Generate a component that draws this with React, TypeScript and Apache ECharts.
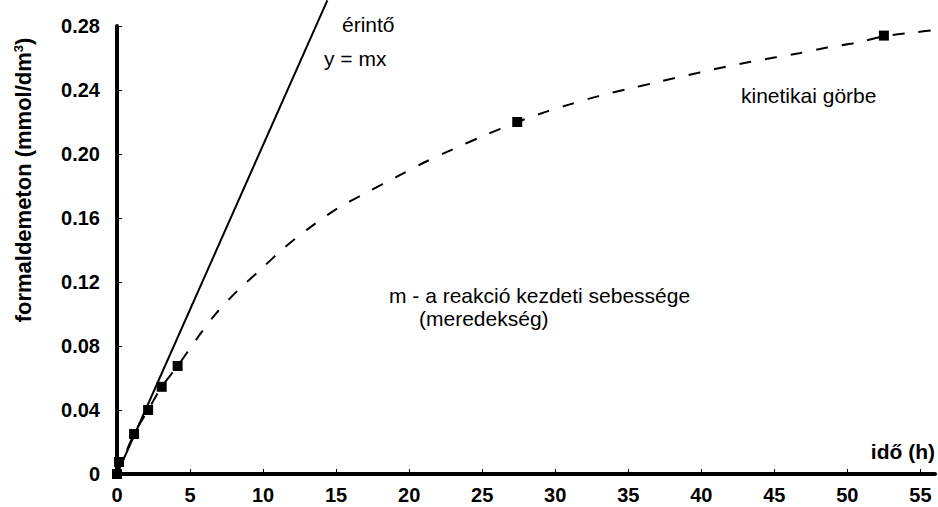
import React, { useEffect, useRef } from 'react';
import * as echarts from 'echarts';

// measured points (time in h, concentration in mmol/dm3)
const measuredTime = [0, 0.14, 1.17, 2.13, 3.06, 4.15, 27.4, 52.5];
const measuredConc = [0, 0.0075, 0.025, 0.04, 0.0545, 0.0675, 0.22, 0.274];

// kinetic curve (dashed)
const curveTime = [0, 1.17, 2.13, 3.06, 4.15, 5.5, 6.8, 8.3, 9.8, 11.4, 13.2, 15.1, 17.1, 19.2, 21.1, 23.0, 25.0, 27.4, 29.4, 31.0, 32.9, 34.9, 36.8, 39.9, 43.3, 46.7, 48.6, 50.6, 52.5, 54.6, 56];
const curveConc = [0, 0.025, 0.04, 0.0545, 0.0675, 0.085, 0.1006, 0.115, 0.1275, 0.141, 0.154, 0.166, 0.176, 0.186, 0.195, 0.203, 0.211, 0.22, 0.2265, 0.231, 0.236, 0.2405, 0.2445, 0.251, 0.2575, 0.263, 0.2665, 0.2695, 0.2735, 0.276, 0.2775];

// tangent line y = mx
const tangentTime = [0, 14.4];
const tangentConc = [0, 0.296];

const xTicks = [0, 5, 10, 15, 20, 25, 30, 35, 40, 45, 50, 55];
const yTicks = ['0', '0.04', '0.08', '0.12', '0.16', '0.20', '0.24', '0.28'];

const FONT = '"Liberation Sans", Arial, sans-serif';

export default function App() {
  const ref = useRef<HTMLDivElement>(null);
  useEffect(() => {
    document.body.style.margin = '0';
    if (!ref.current) return;
    const chart = echarts.init(ref.current, null, { renderer: 'svg' });
    const zip = (a: number[], b: number[]) => a.map((v, i) => [v, b[i]]);
    chart.setOption({
      animation: false,
      backgroundColor: '#fff',
      grid: { left: 117, right: 3, top: 26, bottom: 33, containLabel: false },
      xAxis: {
        type: 'value',
        min: 0,
        max: 56,
        interval: 5,
        axisLine: { show: true, lineStyle: { color: '#000', width: 4 } },
        axisTick: { show: true, inside: true, length: 5, lineStyle: { color: '#000', width: 1 } },
        axisLabel: {
          color: '#000',
          fontFamily: FONT,
          fontWeight: 'bold',
          fontSize: 20,
          margin: 11,
          showMaxLabel: false,
          formatter: (v: number) => (xTicks.includes(v) ? String(v) : ''),
        },
        splitLine: { show: false },
      },
      yAxis: {
        type: 'value',
        min: 0,
        max: 0.28,
        interval: 0.04,
        axisLine: { show: true, onZero: false, lineStyle: { color: '#000', width: 4 } },
        axisTick: { show: true, inside: true, length: 5, lineStyle: { color: '#000', width: 1 } },
        axisLabel: {
          color: '#000',
          fontFamily: FONT,
          fontWeight: 'bold',
          fontSize: 20,
          margin: 17,
          formatter: (v: number) => yTicks[Math.round(v / 0.04)] ?? '',
        },
        splitLine: { show: false },
      },
      series: [
        {
          name: 'kinetikai görbe',
          type: 'line',
          data: zip(curveTime, curveConc),
          showSymbol: false,
          smooth: 0.3,
          lineStyle: { color: '#000', width: 2, type: [12, 14] },
          z: 2,
        },
        {
          name: 'érintő',
          type: 'line',
          data: zip(tangentTime, tangentConc),
          showSymbol: false,
          clip: false,
          lineStyle: { color: '#000', width: 2 },
          z: 3,
        },
        {
          name: 'mért pontok',
          type: 'scatter',
          data: zip(measuredTime, measuredConc),
          symbol: 'rect',
          symbolSize: 10,
          itemStyle: { color: '#000', opacity: 1 },
          z: 4,
        },
      ],
      graphic: [
        {
          type: 'text',
          x: 23,
          y: 180,
          rotation: Math.PI / 2,
          style: {
            text: 'formaldemeton (mmol/dm{sup|3})',
            font: `bold 22px ${FONT}`,
            fill: '#000',
            align: 'center',
            verticalAlign: 'middle',
            rich: {
              sup: { fontSize: 13, fontWeight: 'bold', fontFamily: FONT, verticalAlign: 'top', fill: '#000' },
            },
          },
        },
        {
          type: 'text',
          x: 935,
          y: 451,
          style: { text: 'idő (h)', font: `bold 21px ${FONT}`, fill: '#000', align: 'right', verticalAlign: 'middle' },
        },
        {
          type: 'text',
          x: 342,
          y: 24,
          style: { text: 'érintő', font: `21px ${FONT}`, fill: '#000', align: 'left', verticalAlign: 'middle' },
        },
        {
          type: 'text',
          x: 324,
          y: 58,
          style: { text: 'y = mx', font: `21px ${FONT}`, fill: '#000', align: 'left', verticalAlign: 'middle' },
        },
        {
          type: 'text',
          x: 741,
          y: 95,
          style: { text: 'kinetikai görbe', font: `21px ${FONT}`, fill: '#000', align: 'left', verticalAlign: 'middle' },
        },
        {
          type: 'text',
          x: 389,
          y: 295,
          style: { text: 'm - a reakció kezdeti sebessége', font: `21px ${FONT}`, fill: '#000', align: 'left', verticalAlign: 'middle' },
        },
        {
          type: 'text',
          x: 419,
          y: 318,
          style: { text: '(meredekség)', font: `21px ${FONT}`, fill: '#000', align: 'left', verticalAlign: 'middle' },
        },
      ],
    });
    return () => chart.dispose();
  }, []);
  return <div ref={ref} style={{ width: 938, height: 507 }} />;
}
